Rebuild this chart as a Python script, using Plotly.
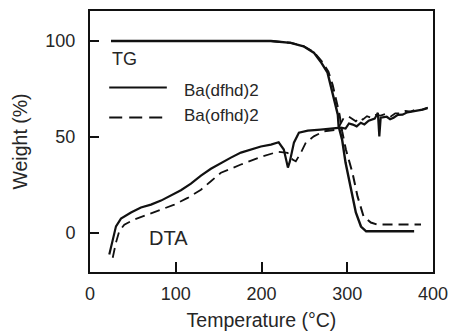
import plotly.graph_objects as go

# ---- data ----
tg_dfhd_T = [24.5, 100, 211, 234, 249, 261, 269, 277, 281, 284, 289, 290, 294, 298, 304, 310, 316, 322, 350, 378]
tg_dfhd_W = [100, 100, 100, 99, 97.2, 93.9, 89.2, 83.5, 76.2, 69.4, 61.6, 55.4, 48.6, 36.6, 22.6, 10.6, 3.3, 0.8, 0.8, 0.8]

tg_ofhd_T = [24.5, 100, 211, 234, 249, 261, 270, 278, 283, 287, 291, 294, 298.4, 306, 312, 319, 327.5, 335, 360, 386]
tg_ofhd_W = [100, 100, 100, 99, 97.3, 94.2, 89.5, 84, 77, 69.4, 61.6, 53, 43.4, 31.4, 19, 8.6, 5.4, 4.3, 4.3, 4.3]

dta_dfhd_T = [22.5, 26.5, 30.3, 36.1, 47.8, 59.4, 71.1, 82.8, 94.4, 106, 117.7, 129.4, 141, 152.7, 164.3,
              176, 187.6, 199.3, 211, 220, 226, 230.8, 233, 237.8, 243.6, 254, 269, 281, 292.5,
              298, 302, 306.5, 311, 315.8, 320, 325, 332, 335.7, 337.4, 339, 346, 350, 354, 359,
              364.5, 370, 376, 382, 387.8, 393.6]
dta_dfhd_W = [-11.3, -3.5, 3.4, 7.4, 10.6, 13.2, 14.7, 16.8, 19.4, 22.2, 25.6, 29.8, 33.4, 36.4, 39.2,
              41.8, 43.4, 45, 46, 47.2, 43.4, 34, 37.1, 47, 52.2, 53.3, 53.8, 54.3, 54.8,
              54.3, 57, 56.4, 55.5, 57.4, 56.5, 58.4, 59.5, 62.6, 50.2, 60, 60.5, 59.2, 60, 61.5,
              61.6, 62.8, 63.2, 63.8, 64.2, 65]

dta_ofhd_T = [26.5, 30.3, 34.1, 40, 51.6, 67.2, 82.8, 98.3, 113.9, 129.4, 141, 152.7, 176, 199.3,
              218.8, 230.4, 236.2, 240, 246, 251.7, 261, 272.7, 288.7, 296, 301.9, 306, 310, 314,
              318, 323, 327.5, 333, 339, 345, 350.8, 356, 362.5, 368, 374, 380, 385.8, 394]
dta_ofhd_W = [-13, -5, 0.8, 4.3, 6.9, 9.5, 12.1, 14.7, 18.2, 22.5, 26.9, 31.3, 35.6, 39.6,
              42.2, 41.7, 38.2, 37.3, 41.8, 47, 50.3, 52.9, 53.8, 60, 60.5, 59.5, 58.1, 60,
              59, 60.8, 60, 61.5, 61.1, 62, 60.6, 62.3, 62.3, 63.5, 63.2, 64.3, 64, 65.3]

x_ticks = [0, 100, 200, 300, 400]
y_ticks = [0, 50, 100]

INK = "#111111"
TXT = "#262626"
FONT = "Liberation Sans, Arial, Helvetica, sans-serif"
DASH = "10px,6px"

fig = go.Figure()
fig.add_trace(go.Scatter(x=tg_dfhd_T, y=tg_dfhd_W, mode="lines", name="Ba(dfhd)2 TG",
                         line=dict(color=INK, width=2.4), showlegend=False))
fig.add_trace(go.Scatter(x=tg_ofhd_T, y=tg_ofhd_W, mode="lines", name="Ba(ofhd)2 TG",
                         line=dict(color=INK, width=2, dash=DASH), showlegend=False))
fig.add_trace(go.Scatter(x=dta_dfhd_T, y=dta_dfhd_W, mode="lines", name="Ba(dfhd)2 DTA",
                         line=dict(color=INK, width=2.2), showlegend=False))
fig.add_trace(go.Scatter(x=dta_ofhd_T, y=dta_ofhd_W, mode="lines", name="Ba(ofhd)2 DTA",
                         line=dict(color=INK, width=1.8, dash=DASH), showlegend=False))

# legend keys (drawn manually to match the figure's long line samples)
fig.add_shape(type="line", xref="paper", yref="paper", x0=0.056, x1=0.224, y0=0.707, y1=0.707,
              line=dict(color=INK, width=2))
fig.add_shape(type="line", xref="paper", yref="paper", x0=0.056, x1=0.224, y0=0.592, y1=0.592,
              line=dict(color=INK, width=2, dash="13px,7px"))

ann = dict(xref="paper", yref="paper", showarrow=False)
fig.add_annotation(text="Ba(dfhd)2", x=0.268, y=0.697, xanchor="left", yanchor="middle",
                   font=dict(family=FONT, color=TXT, size=17), **ann)
fig.add_annotation(text="Ba(ofhd)2", x=0.268, y=0.6015, xanchor="left", yanchor="middle",
                   font=dict(family=FONT, color=TXT, size=17), **ann)
fig.add_annotation(text="TG", x=0.1006, y=0.816, xanchor="center", yanchor="middle",
                   font=dict(family=FONT, color=TXT, size=18), **ann)
fig.add_annotation(text="DTA", x=0.2303, y=0.132, xanchor="center", yanchor="middle",
                   font=dict(family=FONT, color=TXT, size=20), **ann)

fig.update_layout(
    width=456, height=331,
    margin=dict(l=90, r=23, t=11, b=59, autoexpand=False),
    paper_bgcolor="white", plot_bgcolor="white",
    font=dict(family=FONT, color=TXT, size=18),
    showlegend=False,
)
fig.update_xaxes(
    range=[0, 400], tickvals=x_ticks, ticktext=[str(v) for v in x_ticks],
    ticks="inside", ticklen=10, tickwidth=2, tickcolor=INK,
    showline=True, linecolor=INK, linewidth=2, mirror=True,
    showgrid=False, zeroline=False, automargin=False,
    tickfont=dict(size=18), ticklabelstandoff=4,
    title=dict(text="Temperature (°C)", font=dict(size=19.5), standoff=15),
)
fig.update_yaxes(
    range=[-20.4, 115.6], tickvals=y_ticks, ticktext=[str(v) for v in y_ticks],
    ticks="inside", ticklen=9, tickwidth=2, tickcolor=INK,
    showline=True, linecolor=INK, linewidth=2, mirror=True,
    showgrid=False, zeroline=False, automargin=False,
    tickfont=dict(size=18), ticklabelstandoff=9,
    title=dict(text="Weight (%)", font=dict(size=19.5), standoff=13),
)

fig.write_html("out.html")
